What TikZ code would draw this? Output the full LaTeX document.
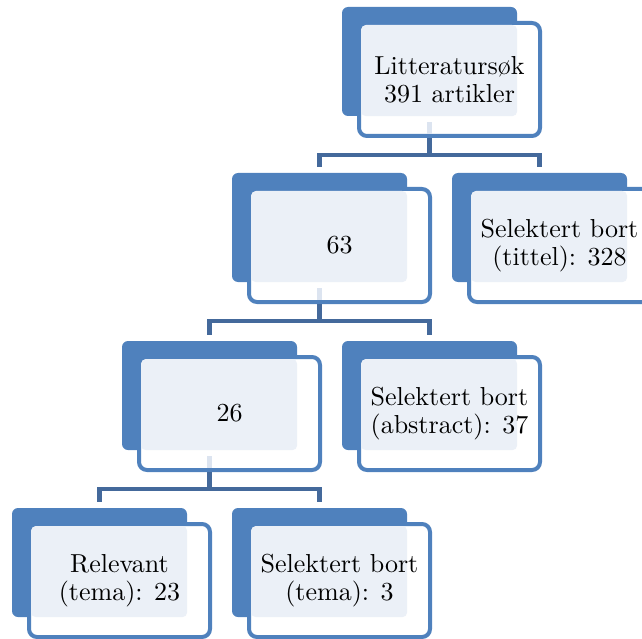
\documentclass[tikz,border=0pt]{standalone}
\usepackage{fontspec}
\newfontfamily\lblfont{lmroman10-regular.otf}
\usetikzlibrary{calc}
\definecolor{accent}{HTML}{4F81BD}
\definecolor{connc}{HTML}{44699B}
\definecolor{lightc}{HTML}{EBF0F7}
\definecolor{ghostc}{HTML}{DCE4F0}
\tikzset{
  backbox/.style={fill=accent, draw=none, rounded corners=6pt, minimum width=175pt, minimum height=109pt, inner sep=0pt},
  frontbox/.style={draw=accent, line width=4pt, fill=white, rounded corners=8pt, minimum width=181pt, minimum height=113pt, inner sep=0pt},
  lbl/.style={align=center, font=\lblfont\fontsize{26}{28}\selectfont, text=black, inner sep=0pt},
  conn/.style={draw=connc, line width=4.5pt, line join=miter},
  ghost/.style={draw=ghostc, line width=4.5pt}
}
\newcommand\orgbox[4]{%
  \node[backbox] (#1-b) at (#2+87.5, #3+54.5) {};
  \node[frontbox] (#1-f) at ($(#1-b.center)+(20,18)$) {};
  \fill[lightc, rounded corners=5pt] ($(#1-f.north west)+(4,4)$) rectangle (#1-b.south east);
  \node[lbl] (#1) at (#1-f.center) {#4};
}
\newcommand\ghostline[1]{%
  \draw[ghost] ($(#1-b.south)+(0,6)$) -- ($(#1-b.south |- #1-f.south)+(0,-4)$);
}
\begin{document}
\begin{tikzpicture}[x=1pt, y=-1pt]
  \useasboundingbox (0,0) rectangle (642,639);
  \clip (0,0) rectangle (642,639);
  \orgbox{A}{342}{7}{Litteraturs\o k\\391 artikler}
  \orgbox{B}{232}{173}{63}
  \orgbox{C}{452}{173}{Selektert bort\\(tittel): 328}
  \orgbox{D}{122}{341}{26}
  \orgbox{E}{342}{341}{Selektert bort\\(abstract): 37}
  \orgbox{F}{12}{508}{Relevant\\(tema): 23}
  \orgbox{G}{232}{508}{Selektert bort\\(tema): 3}
  \ghostline{A}
  \ghostline{B}
  \ghostline{D}
  % bars
  \coordinate (barA) at ($(A-b.north)+(0,148)$);
  \coordinate (barB) at ($(B-b.north)+(0,148)$);
  \coordinate (barD) at ($(D-b.north)+(0,148)$);
  % connectors
  \draw[conn] (A-b.south |- A-f.south) -- (A-b.south |- barA);
  \draw[conn] ($(B-b.north)+(0,-6)$) -- (B-b.north |- barA) -- (C-b.north |- barA) -- ($(C-b.north)+(0,-6)$);
  \draw[conn] (B-b.south |- B-f.south) -- (B-b.south |- barB);
  \draw[conn] ($(D-b.north)+(0,-6)$) -- (D-b.north |- barB) -- (E-b.north |- barB) -- ($(E-b.north)+(0,-6)$);
  \draw[conn] (D-b.south |- D-f.south) -- (D-b.south |- barD);
  \draw[conn] ($(F-b.north)+(0,-6)$) -- (F-b.north |- barD) -- (G-b.north |- barD) -- ($(G-b.north)+(0,-6)$);
\end{tikzpicture}
\end{document}
